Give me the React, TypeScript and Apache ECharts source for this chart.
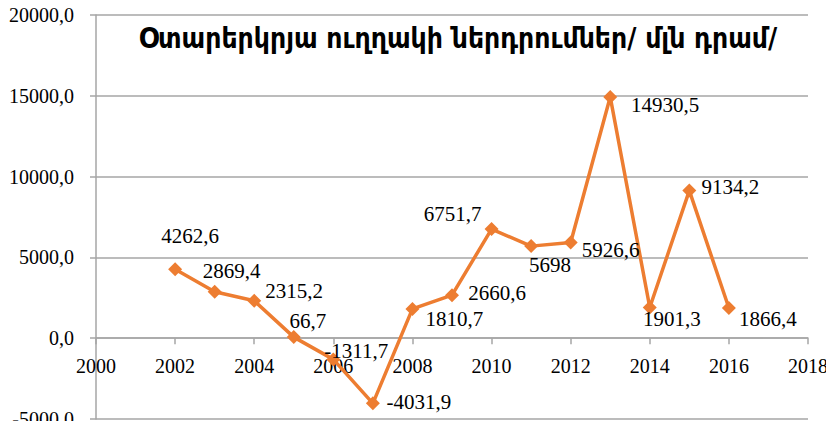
import React, { useEffect, useRef } from "react";
import * as echarts from "echarts";

const TITLE = "Օտարերկրյա ուղղակի ներդրումներ/ մլն դրամ/";
const years = [2002, 2003, 2004, 2005, 2006, 2007, 2008, 2009, 2010, 2011, 2012, 2013, 2014, 2015, 2016];
const values = [4262.6, 2869.4, 2315.2, 66.7, -1311.7, -4031.9, 1810.7, 2660.6, 6751.7, 5698, 5926.6, 14930.5, 1901.3, 9134.2, 1866.4];
// label centre offsets relative to each marker (pixels)
const labelOffsets: [number, number][] = [
  [15, -33], [17, -21], [40, -10], [14, -16], [23, -8], [46, -1], [42, 10], [45, -2],
  [-39, -15], [19, 19], [40, 8], [55, 8], [22, 12], [41, -4], [39, 11],
];
const Y_MIN = -5000;
const Y_MAX = 20000;

const fmtLabel = (v: number) => (Number.isInteger(v) ? String(v) : String(v).replace(".", ","));

export default function App() {
  const ref = useRef<HTMLDivElement>(null);
  useEffect(() => {
    if (!ref.current) return;
    const chart = echarts.init(ref.current, null, { renderer: "svg" });
    const serif = "'Liberation Serif', 'Times New Roman', serif";
    const W = 834, H = 429;
    const grid = { left: 96, right: 26, top: 15, bottom: 10 };
    const gridH = H - grid.top - grid.bottom;
    // place the x axis where y = 0 crosses
    const xOffset = -gridH * (0 - Y_MIN) / (Y_MAX - Y_MIN);
    const data = years.map((y, i) => ({
      value: [y, values[i]],
      label: { offset: labelOffsets[i] },
    }));
    chart.setOption({
      animation: false,
      backgroundColor: "#ffffff",
      title: {
        text: TITLE,
        left: 453,
        top: 19,
        textAlign: "center",
        textStyle: {
          fontFamily: "'DejaVu Sans Condensed', 'DejaVu Sans', sans-serif",
          fontWeight: "bold",
          fontSize: 28,
          color: "#000",
        },
      },
      grid: { ...grid, containLabel: false, outerBoundsMode: "none" },
      xAxis: {
        type: "value",
        min: 2000,
        max: 2018,
        interval: 2,
        position: "bottom",
        offset: xOffset,
        axisLine: { onZero: false, lineStyle: { color: "#a6a6a6", width: 1.5 } },
        axisTick: { show: true, inside: false, length: 6, lineStyle: { color: "#a6a6a6", width: 1.5 } },
        splitLine: { show: false },
        axisLabel: {
          formatter: (v: number) => String(v),
          fontFamily: serif,
          fontSize: 20,
          color: "#000",
          margin: 18,
        },
      },
      yAxis: {
        type: "value",
        min: Y_MIN,
        max: Y_MAX,
        interval: 5000,
        axisLine: { show: true, onZero: false, lineStyle: { color: "#a6a6a6", width: 1.5 } },
        axisTick: { show: true, length: 6, lineStyle: { color: "#a6a6a6", width: 1.5 } },
        splitLine: { show: true, lineStyle: { color: "#a6a6a6", width: 1.5 } },
        axisLabel: {
          formatter: (v: number) => v.toFixed(1).replace(".", ","),
          fontFamily: serif,
          fontSize: 20,
          color: "#000",
          margin: 22,
        },
      },
      series: [
        {
          type: "line",
          data,
          symbol: "diamond",
          symbolSize: 14,
          itemStyle: { color: "#ED7D31" },
          lineStyle: { color: "#ED7D31", width: 3.5 },
          label: {
            show: true,
            position: "inside",
            align: "center",
            verticalAlign: "middle",
            formatter: (p: any) => fmtLabel(p.value[1]),
            fontFamily: serif,
            fontSize: 21,
            color: "#000",
          },
          z: 3,
        },
      ],
    });
    return () => chart.dispose();
  }, []);
  return <div ref={ref} style={{ width: 834, height: 429, margin: -8 }} />;
}
